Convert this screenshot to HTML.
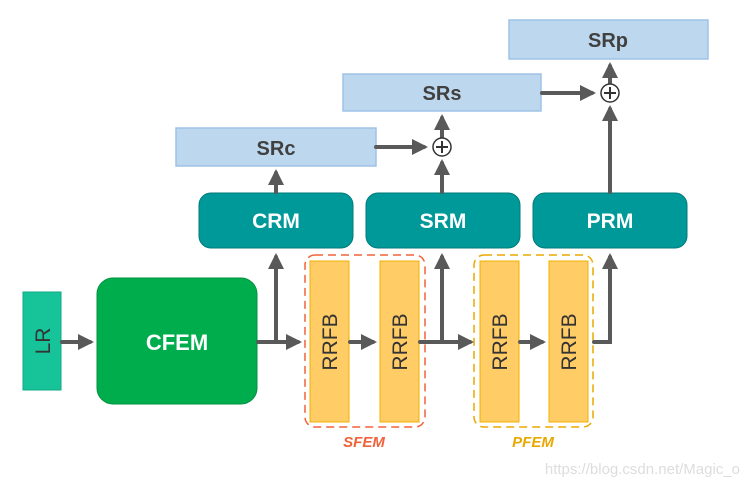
<!DOCTYPE html>
<html><head><meta charset="utf-8"><style>body{margin:0;background:#fff}svg{display:block}</style></head><body>
<svg width="751" height="488" viewBox="0 0 751 488" xmlns="http://www.w3.org/2000/svg" font-family="'Liberation Sans',sans-serif">
<defs><marker id="a" markerWidth="4" markerHeight="4" refX="3" refY="2" orient="auto"><path d="M0,0 L4,2 L0,4 z" fill="#595959"/></marker></defs>
<g stroke="#9dc3e6" stroke-width="1.5" fill="#bdd7ee">
<rect x="509" y="20" width="199" height="39"/>
<rect x="343" y="74" width="198" height="37"/>
<rect x="176" y="128" width="200" height="38"/>
</g>
<g font-weight="bold" font-size="20" fill="#404040" text-anchor="middle">
<text x="608" y="47">SRp</text><text x="442" y="100">SRs</text><text x="276" y="155">SRc</text></g>
<g fill="#009999" stroke="#007a7a" stroke-width="1">
<rect x="199" y="193" width="154" height="55" rx="12"/>
<rect x="366" y="193" width="154" height="55" rx="12"/>
<rect x="533" y="193" width="154" height="55" rx="12"/></g>
<g font-weight="bold" font-size="21" fill="#fff" text-anchor="middle">
<text x="276" y="228">CRM</text><text x="443" y="228">SRM</text><text x="610" y="228">PRM</text></g>
<rect x="23" y="292" width="38" height="98" fill="#17c49a" stroke="#12a884"/>
<text transform="translate(50,341) rotate(-90)" font-size="21" fill="#333" text-anchor="middle">LR</text>
<rect x="97" y="278" width="160" height="126" rx="16" fill="#00ad4c" stroke="#00913f"/>
<text x="177" y="350" font-weight="bold" font-size="22" fill="#fff" text-anchor="middle">CFEM</text>
<rect x="305" y="255" width="120" height="172" rx="10" fill="none" stroke="#f0623a" stroke-width="1.5" stroke-dasharray="8,5"/>
<rect x="474" y="255" width="119" height="172" rx="10" fill="none" stroke="#e8a800" stroke-width="1.5" stroke-dasharray="8,5"/>
<g fill="#ffcc66" stroke="#f0b000" stroke-width="1">
<rect x="310" y="261" width="39" height="161"/><rect x="380" y="261" width="39" height="161"/>
<rect x="480" y="261" width="39" height="161"/><rect x="549" y="261" width="39" height="161"/></g>
<g font-size="21" fill="#333" text-anchor="middle">
<text transform="translate(337,342) rotate(-90)">RRFB</text><text transform="translate(407,342) rotate(-90)">RRFB</text>
<text transform="translate(507,342) rotate(-90)">RRFB</text><text transform="translate(576,342) rotate(-90)">RRFB</text></g>
<g font-weight="bold" font-style="italic" font-size="15" text-anchor="middle">
<text x="364" y="447" fill="#f0623a">SFEM</text><text x="533" y="447" fill="#e8a800">PFEM</text></g>
<text x="740" y="474" font-size="15" fill="#ddd" text-anchor="end">https://blog.csdn.net/Magic_o</text>
<g stroke="#595959" stroke-width="4" fill="none" stroke-linecap="round">
<line x1="62" y1="342" x2="90" y2="342" marker-end="url(#a)"/>
<line x1="258" y1="342" x2="298" y2="342" marker-end="url(#a)"/>
<line x1="276" y1="342" x2="276" y2="257" marker-end="url(#a)"/>
<line x1="350" y1="342" x2="373" y2="342" marker-end="url(#a)"/>
<line x1="420" y1="342" x2="470" y2="342" marker-end="url(#a)"/>
<line x1="442" y1="342" x2="442" y2="257" marker-end="url(#a)"/>
<line x1="520" y1="342" x2="542" y2="342" marker-end="url(#a)"/>
<polyline points="594,342 610,342 610,257" marker-end="url(#a)"/>
<line x1="276" y1="192" x2="276" y2="173" marker-end="url(#a)"/>
<line x1="442" y1="192" x2="442" y2="163" marker-end="url(#a)"/>
<line x1="442" y1="137" x2="442" y2="118" marker-end="url(#a)"/>
<line x1="376" y1="147" x2="424" y2="147" marker-end="url(#a)"/>
<line x1="610" y1="192" x2="610" y2="109" marker-end="url(#a)"/>
<line x1="610" y1="83" x2="610" y2="66" marker-end="url(#a)"/>
<line x1="542" y1="93" x2="592" y2="93" marker-end="url(#a)"/>
</g>
<g stroke="#333" stroke-width="1.5" fill="#fff">
<circle cx="442" cy="147" r="9"/><circle cx="610" cy="93" r="9"/></g>
<g stroke="#333" stroke-width="2">
<line x1="436" y1="147" x2="448" y2="147"/><line x1="442" y1="141" x2="442" y2="153"/>
<line x1="604" y1="93" x2="616" y2="93"/><line x1="610" y1="87" x2="610" y2="99"/></g>
</svg>
</body></html>
